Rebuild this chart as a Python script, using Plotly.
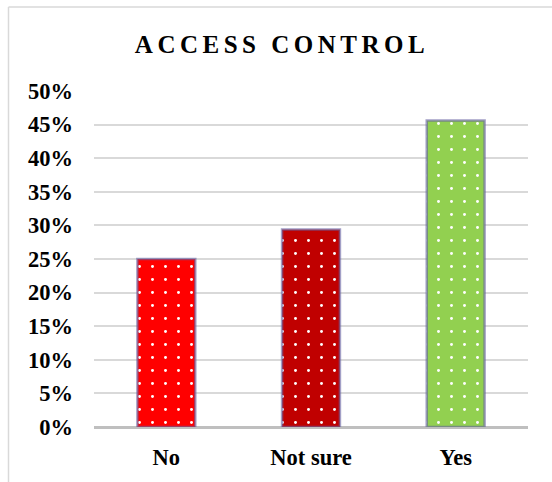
import plotly.graph_objects as go

categories = ["No", "Not sure", "Yes"]
values = [0.25, 0.294, 0.456]
colors = ["#ff0000", "#c00000", "#92d050"]
title_text = "ACCESS CONTROL"

W, H = 552, 482
ml, mr, mt, mb = 94, 24, 91, 55
pw = W - ml - mr
ph = H - mt - mb

fig = go.Figure()
for cat, val, col in zip(categories, values, colors):
    fig.add_trace(go.Bar(
        x=[cat], y=[val],
        width=0.4,
        marker=dict(
            color=col,
            line=dict(color="rgba(100,95,160,0.6)", width=2.5),
            pattern=dict(shape=".", fgcolor="#ffffff", bgcolor=col, fgopacity=1,
                         size=13, solidity=0.04, fillmode="replace"),
        ),
        hoverinfo="skip",
    ))

font_family = "Liberation Serif, Times New Roman, serif"

def px_x(p):
    return (p - ml) / pw

def px_y(p):
    return (H - mb - p) / ph

border = "#d9d9d9"
shapes = [
    dict(type="line", xref="paper", yref="paper",
         x0=px_x(8.5), x1=px_x(8.5), y0=px_y(490), y1=px_y(7),
         line=dict(color=border, width=1.5)),
    dict(type="line", xref="paper", yref="paper",
         x0=px_x(8.5), x1=px_x(560), y0=px_y(7), y1=px_y(7),
         line=dict(color=border, width=1.5)),
]

fig.update_layout(
    width=W, height=H,
    margin=dict(l=ml, r=mr, t=mt, b=mb),
    paper_bgcolor="white", plot_bgcolor="white",
    showlegend=False,
    barmode="overlay",
    shapes=shapes,
    title=dict(
        text="<b><span style='letter-spacing:4.5px'>" + title_text + "</span></b>",
        x=282 / W, xanchor="center",
        y=1 - 44 / H, yanchor="middle",
        font=dict(family=font_family, size=25, color="black"),
    ),
    xaxis=dict(
        categoryorder="array", categoryarray=categories,
        showgrid=False, showline=False, ticks="",
        tickfont=dict(family=font_family, size=22.5, color="black", weight="bold"),
        ticklabelstandoff=14,
    ),
    yaxis=dict(
        range=[0, 0.5], dtick=0.05, tickformat=".0%",
        showgrid=True, gridcolor="#d9d9d9", gridwidth=1.5,
        zeroline=True, zerolinecolor="#bfbfbf", zerolinewidth=3,
        showline=False, ticks="",
        tickfont=dict(family=font_family, size=22.5, color="black", weight="bold"),
        ticklabelstandoff=20,
    ),
)

fig.write_html("out.html")
